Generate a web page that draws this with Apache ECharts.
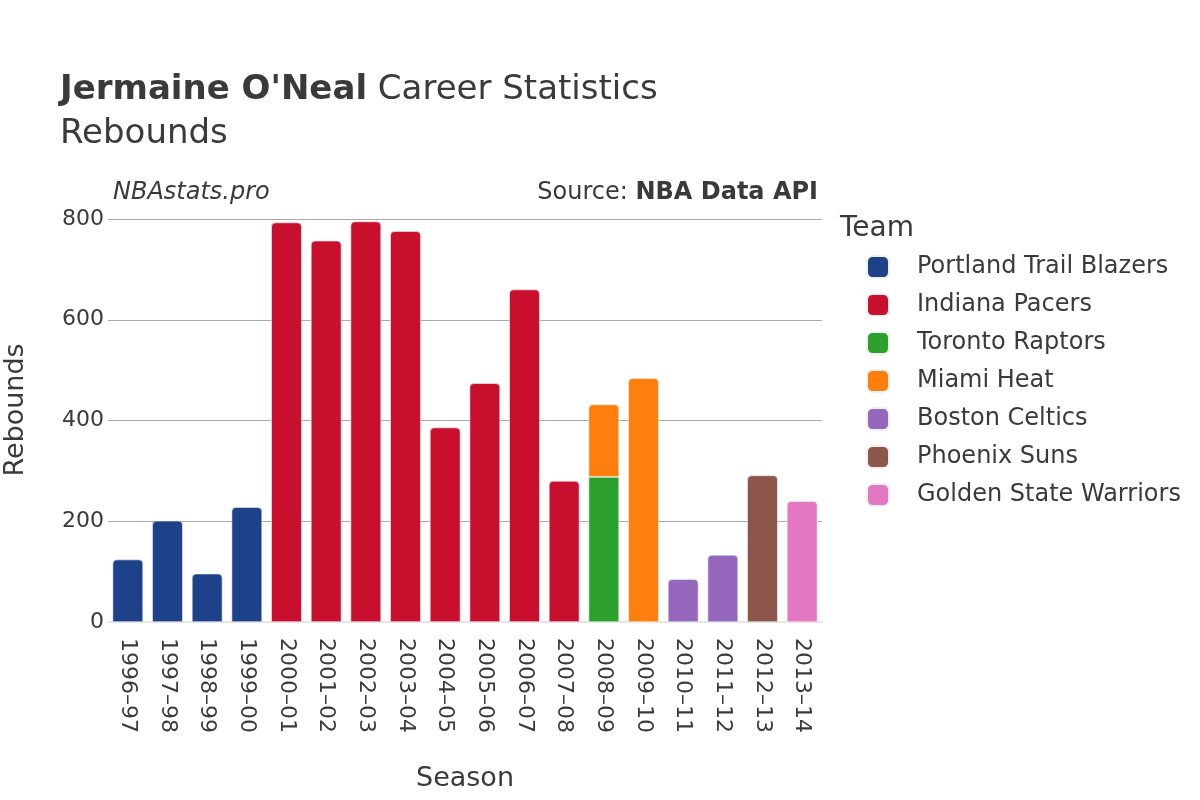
<!DOCTYPE html>
<html>
<head>
<meta charset="utf-8">
<script src="https://cdn.jsdelivr.net/npm/echarts@6/dist/echarts.min.js"></script>
<style>html,body{margin:0;padding:0;background:#fff}#c{width:1200px;height:800px}</style>
</head>
<body>
<div id="c"></div>
<script>
const seasons = ["1996–97","1997–98","1998–99","1999–00","2000–01","2001–02","2002–03","2003–04","2004–05","2005–06","2006–07","2007–08","2008–09","2009–10","2010–11","2011–12","2012–13","2013–14"];
const teams = ["Portland Trail Blazers","Indiana Pacers","Toronto Raptors","Miami Heat","Boston Celtics","Phoenix Suns","Golden State Warriors"];
const teamColors = ["#1d428a","#c8102e","#2ca02c","#ff7f0e","#9467bd","#8c564b","#e377c2"];
const portland = [124,201,96,228,null,null,null,null,null,null,null,null,null,null,null,null,null,null];
const indiana  = [null,null,null,null,793,757,795,776,386,474,660,280,null,null,null,null,null,null];
const toronto  = [null,null,null,null,null,null,null,null,null,null,null,null,288,null,null,null,null,null];
const miami    = [null,null,null,null,null,null,null,null,null,null,null,null,144,484,null,null,null,null];
const boston   = [null,null,null,null,null,null,null,null,null,null,null,null,null,null,85,133,null,null];
const phoenix  = [null,null,null,null,null,null,null,null,null,null,null,null,null,null,null,null,291,null];
const gsw      = [null,null,null,null,null,null,null,null,null,null,null,null,null,null,null,null,null,240];
const yTicks = [0,200,400,600,800];

const seriesData = [portland, indiana, toronto, miami, boston, phoenix, gsw];
const FONT = "DejaVu Sans";
const TXT = '#3a3a3a';
const chart = echarts.init(document.getElementById('c'));

function items(arr, idx){
  return arr.map((v,i)=>{
    if(v==null) return null;
    let onTop = false;
    for(let k=idx+1;k<seriesData.length;k++){ if(seriesData[k][i]!=null) onTop=true; }
    return {value:v, itemStyle:{borderRadius: onTop ? 0 : [4,4,0,0]}};
  });
}

chart.setOption({
  animation:false,
  textStyle:{fontFamily:FONT},
  title:[
    {text:"{b|Jermaine O'Neal} Career Statistics", left:60, top:73, padding:0,
     textStyle:{fontSize:34, color:TXT, fontWeight:'normal', fontFamily:FONT,
       rich:{b:{fontSize:34, fontWeight:'bold', color:TXT, fontFamily:FONT}}}},
    {text:"Rebounds", left:60, top:117, padding:0, textStyle:{fontSize:34, color:TXT, fontWeight:'normal', fontFamily:FONT}},
    {text:"NBAstats.pro", left:113, top:181, padding:0, textStyle:{fontSize:24, color:TXT, fontStyle:'italic', fontWeight:'normal', fontFamily:FONT}},
    {text:"Source: {b|NBA Data API}", right:382, top:181, padding:0, textStyle:{fontSize:24, color:TXT, fontWeight:'normal', fontFamily:FONT,
       rich:{b:{fontSize:24, fontWeight:'bold', color:TXT, fontFamily:FONT}}}},
    {text:"Team", left:840, top:215, padding:0, textStyle:{fontSize:28, color:TXT, fontWeight:'normal', fontFamily:FONT}}
  ],
  graphic:[
    {type:'text', x:16, y:410, rotation:Math.PI/2,
     style:{text:'Rebounds', fontSize:27, fill:TXT, fontFamily:FONT, align:'center', verticalAlign:'middle'}}
  ],
  legend:{
    orient:'vertical', left:866, top:255, padding:0, itemWidth:22, itemHeight:22, itemGap:14,
    icon:'roundRect',
    data:teams,
    textStyle:{fontSize:24, color:TXT, fontFamily:FONT, padding:[0,0,0,23]},
    selectedMode:false
  },
  grid:{left:108, right:378, top:219, bottom:178, containLabel:false},
  xAxis:{
    type:'category', data:seasons,
    name:'Season', nameLocation:'middle', nameGap:143,
    nameTextStyle:{fontSize:27, color:TXT, fontFamily:FONT},
    axisLine:{show:true, lineStyle:{color:'#e6e6e6', width:2}},
    axisTick:{show:false},
    axisLabel:{rotate:-90, fontSize:22, color:TXT, margin:16, fontFamily:FONT, interval:0}
  },
  yAxis:{
    type:'value', min:0, max:800, interval:200,
    axisLine:{show:false}, axisTick:{show:false},
    axisLabel:{fontSize:22, color:TXT, margin:4, fontFamily:FONT,
      formatter:v=> yTicks.includes(v)? String(v):''},
    splitLine:{lineStyle:{color:'#aaaaaa', width:1}}
  },
  series: teams.map((t,i)=>({
    name:t, type:'bar', stack:'total', barWidth:'77%',
    itemStyle:{color:teamColors[i], borderColor:'#f0f0f0', borderWidth:0.6},
    data: items(seriesData[i], i)
  }))
});
</script>
</body>
</html>
